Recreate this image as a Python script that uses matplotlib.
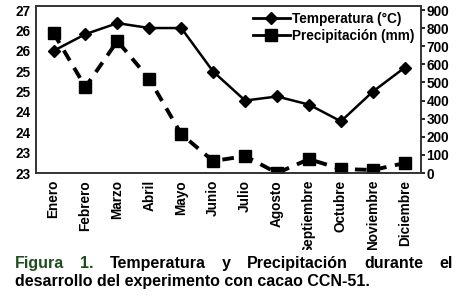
import numpy as np
import matplotlib.pyplot as plt
from matplotlib.patches import Rectangle

plt.rcParams['font.family'] = ['Liberation Sans', 'DejaVu Sans']

meses = ['Enero', 'Febrero', 'Marzo', 'Abril', 'Mayo', 'Junio', 'Julio',
         'Agosto', 'Septiembre', 'Octubre', 'Noviembre', 'Diciembre']
temperatura = [26.0, 26.41, 26.68, 26.56, 26.56, 25.49, 24.78, 24.88,
               24.68, 24.27, 25.0, 25.59]
precipitacion = [773, 475, 729, 519, 215, 66, 94, 0, 77, 22, 17, 55]
temp_ticks = [23, 23.5, 24, 24.5, 25, 25.5, 26, 26.5, 27]
prec_ticks = [0, 100, 200, 300, 400, 500, 600, 700, 800, 900]

fig = plt.figure(figsize=(4.67, 3.02), dpi=100)
ax = fig.add_axes([0.077, 0.427, 0.824, 0.553])
ax2 = ax.twinx()

x = np.arange(len(meses))
l1, = ax.plot(x, temperatura, '-', color='black', lw=1.8, marker='D',
              ms=6, label='Temperatura (°C)')
l2, = ax2.plot(x, precipitacion, '--', color='black', lw=2.8, marker='s',
               ms=8, dashes=(3, 2.2), label='Precipitación (mm)')

ax.set_xlim(-0.55, 11.5)
ax.set_ylim(23, 27.1)
ax2.set_ylim(0, 922)
ax.set_yticks(temp_ticks)
ax.set_yticklabels([str(int(v)) for v in temp_ticks])
ax2.set_yticks(prec_ticks)
ax.set_xticks(x)
ax.set_xticklabels(meses, rotation=90)

ax.tick_params(axis='y', length=0, pad=4)
ax.tick_params(axis='x', length=0, pad=5)
ax2.tick_params(axis='y', length=3, width=1.2, pad=1)
for a in (ax, ax2):
    for lab in a.get_xticklabels() + a.get_yticklabels():
        lab.set_fontsize(9.8)
        lab.set_fontweight('bold')
    for s in a.spines.values():
        s.set_linewidth(1.2)
        s.set_color('#333333')

leg = ax.legend(handles=[l1, l2], loc='upper right', frameon=False,
                handlelength=2.7, borderaxespad=0.05,
                labelspacing=0.2, handletextpad=0.2,
                prop={'weight': 'bold', 'size': 9.8})
for h in leg.get_lines():
    h.set_linestyle('-')
    h.set_linewidth(2)

# white strip under the caption hides the ends of the long month labels
fig.patches.append(Rectangle((0, 0), 1, 1 - 250 / 302, transform=fig.transFigure,
                             facecolor='white', edgecolor='none', zorder=5))

# caption, justified on the first line
renderer = fig.canvas.get_renderer()
line1 = ['Figura', '1.', 'Temperatura', 'y', 'Precipitación', 'durante', 'el']
x0, x1 = 15 / 467, 453 / 467
texts = []
for i, w in enumerate(line1):
    c = '#1f4d1f' if i < 2 else 'black'
    t = fig.text(0, 1 - 268 / 302, w, fontsize=11.5, fontweight='bold',
                 color=c, va='baseline', ha='left', zorder=6)
    texts.append(t)
widths = [t.get_window_extent(renderer).width / fig.bbox.width for t in texts]
gap = ((x1 - x0) - sum(widths)) / (len(texts) - 1)
pos = x0
for t, w in zip(texts, widths):
    t.set_x(pos)
    pos += w + gap
fig.text(x0, 1 - 286 / 302, 'desarrollo del experimento con cacao CCN-51.',
         fontsize=11.5, fontweight='bold', va='baseline', ha='left', zorder=6)

fig.savefig('out.png', dpi=100)
